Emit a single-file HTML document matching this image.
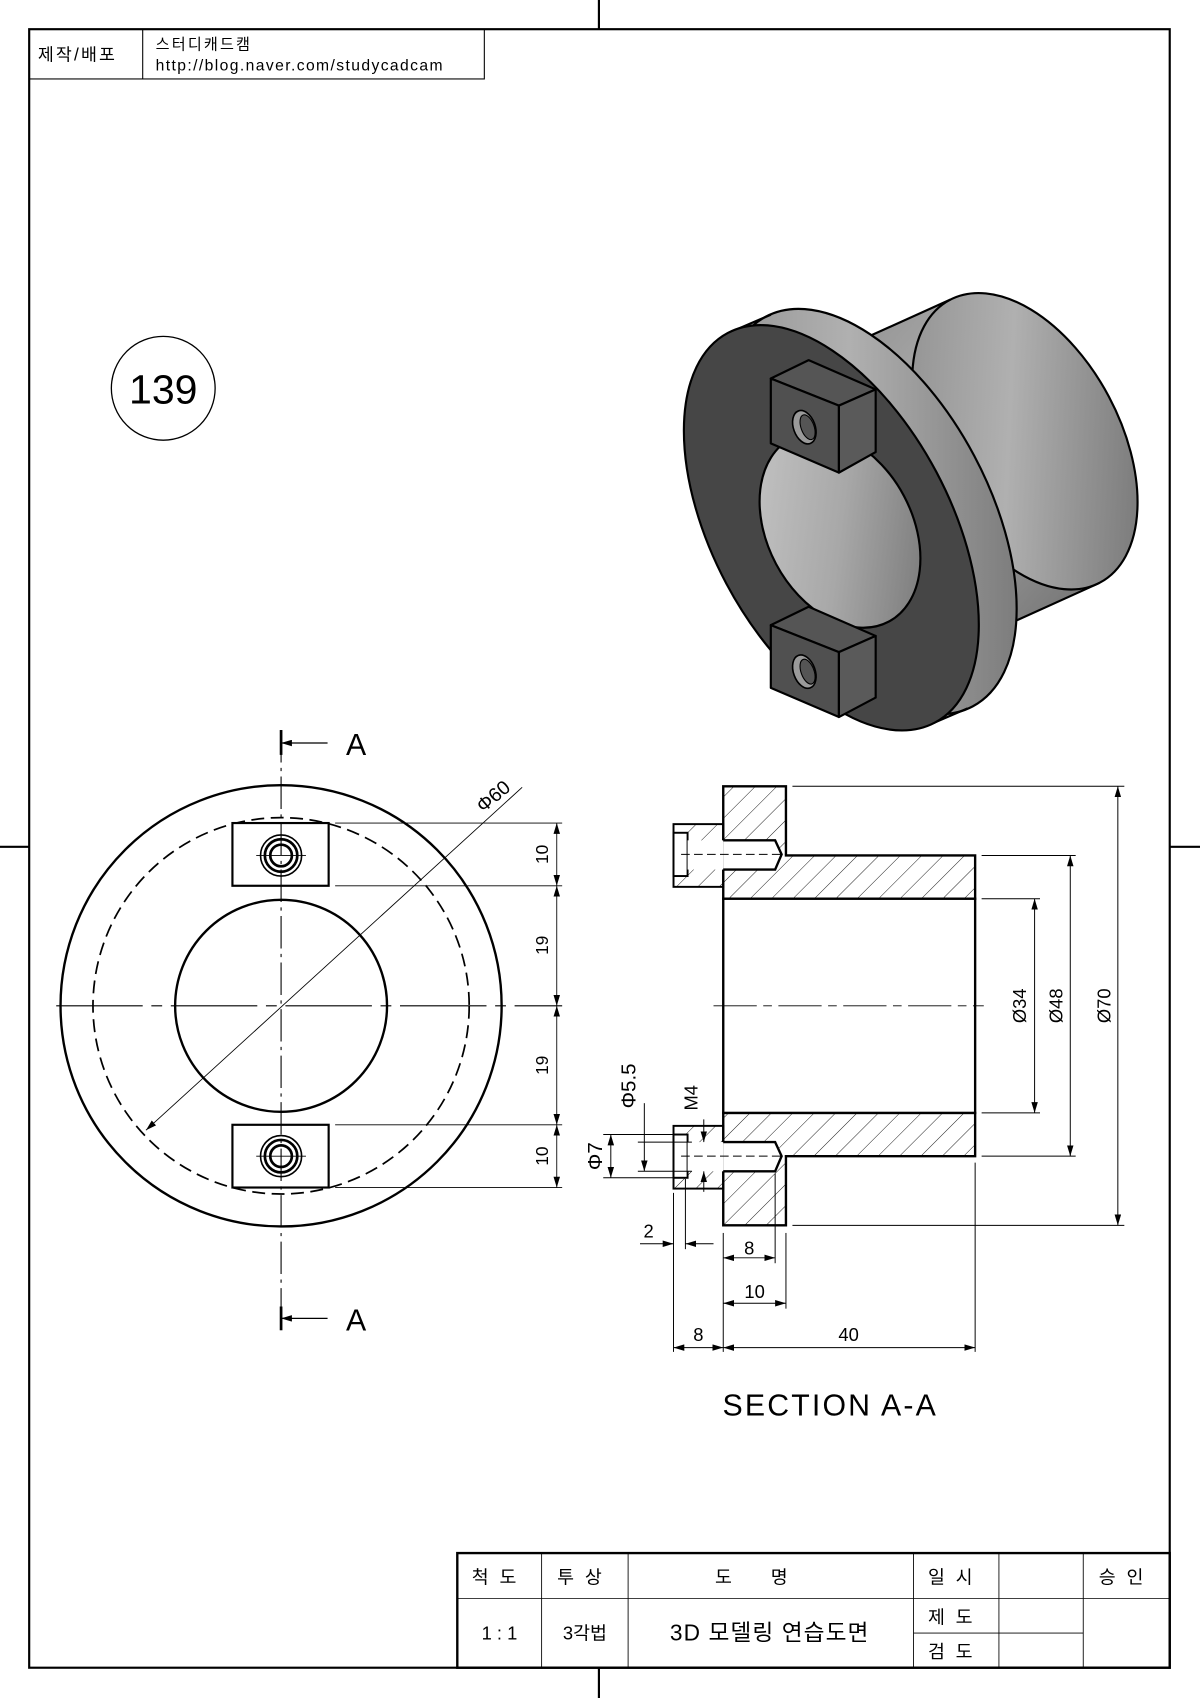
<!DOCTYPE html>
<html><head><meta charset="utf-8"><style>
html,body{margin:0;padding:0;background:#fff;}
svg{display:block;}
text{font-family:"Liberation Sans","Noto Sans CJK KR",sans-serif;fill:#000;}
</style></head><body>
<svg width="1200" height="1698" viewBox="0 0 1110 1570" preserveAspectRatio="none" xmlns="http://www.w3.org/2000/svg">
<defs>
<linearGradient id="cyl" x1="0" y1="0" x2="1" y2="1"><stop offset="0" stop-color="#8a8a8a"/><stop offset="0.45" stop-color="#b0b0b0"/><stop offset="1" stop-color="#6a6a6a"/></linearGradient>
<linearGradient id="bore" x1="0" y1="0" x2="1" y2="1"><stop offset="0" stop-color="#c8c8c8"/><stop offset="0.5" stop-color="#a8a8a8"/><stop offset="1" stop-color="#707070"/></linearGradient>
<pattern id="hat" patternUnits="userSpaceOnUse" width="14" height="14" patternTransform="rotate(45)"><line x1="0" y1="0" x2="0" y2="14" stroke="#000" stroke-width="0.8"/></pattern>
<marker id="ar" markerWidth="10" markerHeight="6" refX="10" refY="3" orient="auto" markerUnits="userSpaceOnUse"><path d="M0,0 L10,3 L0,6z" fill="#000"/></marker>
<marker id="al" markerWidth="10" markerHeight="6" refX="0" refY="3" orient="auto" markerUnits="userSpaceOnUse"><path d="M10,0 L0,3 L10,6z" fill="#000"/></marker>
</defs>
<!-- frame -->
<rect x="27" y="27" width="1055" height="1515" fill="none" stroke="#000" stroke-width="2"/>
<line x1="554" y1="0" x2="554" y2="27" stroke="#000" stroke-width="2"/>
<line x1="554" y1="1542" x2="554" y2="1570" stroke="#000" stroke-width="2"/>
<line x1="0" y1="783" x2="27" y2="783" stroke="#000" stroke-width="2"/>
<line x1="1082" y1="783" x2="1110" y2="783" stroke="#000" stroke-width="2"/>
<!-- header -->
<rect x="27" y="27" width="421" height="46" fill="none" stroke="#000" stroke-width="1"/>
<line x1="132" y1="27" x2="132" y2="73" stroke="#000" stroke-width="1"/>
<text x="35" y="56" font-size="16" letter-spacing="2">제작/배포</text>
<text x="144" y="46" font-size="14" letter-spacing="2">스터디캐드캠</text>
<text x="144" y="65" font-size="14.5" letter-spacing="1.3">http://blog.naver.com/studycadcam</text>
<!-- 139 -->
<circle cx="151" cy="359" r="48" fill="none" stroke="#000" stroke-width="1.2"/>
<text x="151" y="373" font-size="38" text-anchor="middle">139</text>

<!-- 3D -->
<g stroke="#000" stroke-width="2" stroke-linejoin="round">
<path d="M879,277 L1017,539 L873,604 L735,342 Z" fill="url(#cyl)" stroke="none"/>
<ellipse cx="948" cy="408" rx="88" ry="148" transform="rotate(-28 948 408)" fill="url(#cyl)"/>
<line x1="879" y1="277" x2="735" y2="342"/>
<line x1="1017" y1="539" x2="873" y2="604"/>
<path d="M678,306 L713,291 L895,655 L860,670 Z" fill="#a0a0a0" stroke="none"/>
<ellipse cx="804" cy="473" rx="110" ry="204" transform="rotate(-28 804 473)" fill="url(#cyl)"/>
<line x1="678" y1="306" x2="713" y2="291"/>
<line x1="860" y1="670" x2="895" y2="655"/>
<ellipse cx="769" cy="488" rx="110" ry="204" transform="rotate(-28 769 488)" fill="#464646"/>
<ellipse cx="777" cy="490" rx="67" ry="96" transform="rotate(-28 777 490)" fill="url(#bore)"/>
<g fill="#505050">
<path d="M713,350 L748,333 L810,360 L776,375 Z" fill="#555"/>
<path d="M713,350 L776,375 L776,437 L713,410 Z"/>
<path d="M776,375 L810,360 L810,418 L776,437 Z" fill="#5a5a5a"/>
<path d="M713,578 L748,561 L810,588 L776,603 Z" fill="#555"/>
<path d="M713,578 L776,603 L776,663 L713,636 Z"/>
<path d="M776,603 L810,588 L810,645 L776,663 Z" fill="#5a5a5a"/>
</g>
<ellipse cx="744" cy="395" rx="10" ry="16" transform="rotate(-20 744 395)" fill="#9a9a9a" stroke-width="1.5"/>
<ellipse cx="747" cy="395" rx="6" ry="12" transform="rotate(-20 747 395)" fill="#555" stroke-width="1"/>
<ellipse cx="744" cy="621" rx="10" ry="16" transform="rotate(-20 744 621)" fill="#9a9a9a" stroke-width="1.5"/>
<ellipse cx="747" cy="621" rx="6" ry="12" transform="rotate(-20 747 621)" fill="#555" stroke-width="1"/>
</g>

<!-- Front view -->
<g fill="none" stroke="#000">
<circle cx="260" cy="930" r="204" stroke-width="2.2"/>
<circle cx="260" cy="930" r="174" stroke-width="1.6" stroke-dasharray="12,6"/>
<circle cx="260" cy="930" r="98" stroke-width="2.2"/>
<rect x="215" y="761" width="89" height="58" fill="#fff" stroke-width="2"/>
<rect x="215" y="1040" width="89" height="58" fill="#fff" stroke-width="2"/>
<circle cx="260" cy="791" r="19" stroke-width="1.5"/><circle cx="260" cy="791" r="15" stroke-width="2.5"/><circle cx="260" cy="791" r="10" stroke-width="2.5"/>
<circle cx="260" cy="1069" r="19" stroke-width="1.5"/><circle cx="260" cy="1069" r="15" stroke-width="2.5"/><circle cx="260" cy="1069" r="10" stroke-width="2.5"/>
<line x1="260" y1="675" x2="260" y2="1230" stroke-width="1" stroke-dasharray="30,5,3,5"/>
<line x1="52" y1="930" x2="520" y2="930" stroke-width="1" stroke-dasharray="80,8,10,8"/>
<line x1="237" y1="791" x2="283" y2="791" stroke-width="0.8"/><line x1="237" y1="1069" x2="283" y2="1069" stroke-width="0.8"/>
<line x1="135" y1="1045" x2="483" y2="728" stroke-width="0.8" marker-start="url(#al)"/>
<line x1="310" y1="761" x2="520" y2="761" stroke-width="0.8"/>
<line x1="310" y1="819" x2="520" y2="819" stroke-width="0.8"/>
<line x1="310" y1="1040" x2="520" y2="1040" stroke-width="0.8"/>
<line x1="310" y1="1098" x2="520" y2="1098" stroke-width="0.8"/>
<line x1="515" y1="761" x2="515" y2="819" stroke-width="0.8" marker-start="url(#al)" marker-end="url(#ar)"/>
<line x1="515" y1="819" x2="515" y2="930" stroke-width="0.8" marker-start="url(#al)" marker-end="url(#ar)"/>
<line x1="515" y1="930" x2="515" y2="1040" stroke-width="0.8" marker-start="url(#al)" marker-end="url(#ar)"/>
<line x1="515" y1="1040" x2="515" y2="1098" stroke-width="0.8" marker-start="url(#al)" marker-end="url(#ar)"/>
<line x1="260" y1="687" x2="303" y2="687" stroke-width="1.2" marker-start="url(#al)"/>
<line x1="260" y1="1219" x2="303" y2="1219" stroke-width="1.2" marker-start="url(#al)"/>
<line x1="260" y1="675" x2="260" y2="698" stroke-width="2.5"/>
<line x1="260" y1="1208" x2="260" y2="1230" stroke-width="2.5"/>
</g>
<text x="320" y="698" font-size="28">A</text>
<text x="320" y="1230" font-size="28">A</text>
<text font-size="18" transform="translate(447,752) rotate(-40)">Φ60</text>
<g font-size="16">
<text transform="translate(507,790) rotate(-90)" text-anchor="middle">10</text>
<text transform="translate(507,874) rotate(-90)" text-anchor="middle">19</text>
<text transform="translate(507,985) rotate(-90)" text-anchor="middle">19</text>
<text transform="translate(507,1069) rotate(-90)" text-anchor="middle">10</text>
</g>

<!-- Section view -->
<g stroke="#000" stroke-width="2.2">
<path d="M669,727 H727 V791 H902 V831 H669 Z" fill="url(#hat)"/>
<path d="M669,1029 H902 V1069 H727 V1133 H669 Z" fill="url(#hat)"/>
<rect x="669" y="831" width="233" height="198" fill="#fff"/>
<rect x="623" y="762" width="46" height="58" fill="url(#hat)" stroke-width="1.8"/>
<rect x="623" y="770" width="13" height="40" fill="#fff" stroke-width="1.8"/>
<rect x="636" y="777" width="33" height="27" fill="#fff" stroke="none"/>
<path d="M669,777 H717 L723,790 L717,804 H669" fill="#fff"/>
<rect x="623" y="1041" width="46" height="58" fill="url(#hat)" stroke-width="1.8"/>
<rect x="623" y="1049" width="13" height="40" fill="#fff" stroke-width="1.8"/>
<rect x="636" y="1056" width="33" height="27" fill="#fff" stroke="none"/>
<path d="M669,1056 H717 L723,1069 L717,1083 H669" fill="#fff"/>
</g>
<g fill="none" stroke="#000" stroke-width="0.9">
<line x1="630" y1="790" x2="728" y2="790" stroke-dasharray="8,4"/>
<line x1="630" y1="1069" x2="728" y2="1069" stroke-dasharray="8,4"/>
<line x1="660" y1="930" x2="910" y2="930" stroke-dasharray="40,6,8,6"/>
<line x1="733" y1="727" x2="1040" y2="727"/>
<line x1="733" y1="1133" x2="1040" y2="1133"/>
<line x1="908" y1="791" x2="995" y2="791"/>
<line x1="908" y1="1069" x2="995" y2="1069"/>
<line x1="908" y1="831" x2="962" y2="831"/>
<line x1="908" y1="1029" x2="962" y2="1029"/>
<line x1="957" y1="831" x2="957" y2="1029" marker-start="url(#al)" marker-end="url(#ar)"/>
<line x1="990" y1="791" x2="990" y2="1069" marker-start="url(#al)" marker-end="url(#ar)"/>
<line x1="1034" y1="727" x2="1034" y2="1133" marker-start="url(#al)" marker-end="url(#ar)"/>
<line x1="623" y1="1103" x2="623" y2="1250"/>
<line x1="669" y1="1140" x2="669" y2="1250"/>
<line x1="727" y1="1140" x2="727" y2="1210"/>
<line x1="717" y1="1085" x2="717" y2="1168"/>
<line x1="902" y1="1075" x2="902" y2="1250"/>
<line x1="634" y1="1090" x2="634" y2="1155"/>
<line x1="669" y1="1163" x2="717" y2="1163" marker-start="url(#al)" marker-end="url(#ar)"/>
<line x1="669" y1="1205" x2="727" y2="1205" marker-start="url(#al)" marker-end="url(#ar)"/>
<line x1="623" y1="1246" x2="669" y2="1246" marker-start="url(#al)" marker-end="url(#ar)"/>
<line x1="669" y1="1246" x2="902" y2="1246" marker-start="url(#al)" marker-end="url(#ar)"/>
<line x1="592" y1="1150" x2="623" y2="1150" marker-end="url(#ar)"/>
<line x1="634" y1="1150" x2="660" y2="1150" marker-start="url(#al)"/>
<line x1="558" y1="1049" x2="625" y2="1049"/>
<line x1="558" y1="1089" x2="625" y2="1089"/>
<line x1="565" y1="1049" x2="565" y2="1089" marker-start="url(#al)" marker-end="url(#ar)"/>
<line x1="590" y1="1056" x2="640" y2="1056"/>
<line x1="590" y1="1083" x2="640" y2="1083"/>
<line x1="596" y1="1020" x2="596" y2="1083" marker-end="url(#ar)"/>
<line x1="651" y1="1035" x2="651" y2="1056" marker-end="url(#ar)"/>
<line x1="651" y1="1083" x2="651" y2="1102" marker-start="url(#al)"/>
</g>
<g font-size="17">
<text transform="translate(949,930) rotate(-90)" text-anchor="middle">Ø34</text>
<text transform="translate(983,930) rotate(-90)" text-anchor="middle">Ø48</text>
<text transform="translate(1027,930) rotate(-90)" text-anchor="middle">Ø70</text>
<text x="693" y="1160" text-anchor="middle">8</text>
<text x="698" y="1200" text-anchor="middle">10</text>
<text x="646" y="1240" text-anchor="middle">8</text>
<text x="785" y="1240" text-anchor="middle">40</text>
<text x="600" y="1144" text-anchor="middle">2</text>
<text transform="translate(557,1069) rotate(-90)" text-anchor="middle" font-size="19">Φ7</text>
<text transform="translate(588,1004) rotate(-90)" text-anchor="middle" font-size="19">Φ5.5</text>
<text transform="translate(645,1015) rotate(-90)" text-anchor="middle">M4</text>
</g>
<text x="768" y="1309" font-size="28" text-anchor="middle" letter-spacing="2">SECTION A-A</text>

<!-- title block -->
<g fill="none" stroke="#000">
<rect x="423" y="1436" width="659" height="106" stroke-width="2.2"/>
<line x1="423" y1="1478" x2="1082" y2="1478" stroke-width="0.8"/>
<line x1="501" y1="1436" x2="501" y2="1542" stroke-width="0.8"/>
<line x1="581" y1="1436" x2="581" y2="1542" stroke-width="0.8"/>
<line x1="845" y1="1436" x2="845" y2="1542" stroke-width="0.8"/>
<line x1="924" y1="1436" x2="924" y2="1542" stroke-width="0.8"/>
<line x1="1002" y1="1436" x2="1002" y2="1542" stroke-width="0.8"/>
<line x1="845" y1="1510" x2="1002" y2="1510" stroke-width="0.8"/>
</g>
<g font-size="17" text-anchor="middle">
<text x="462" y="1464" letter-spacing="10">척도</text>
<text x="541" y="1464" letter-spacing="10">투상</text>
<text x="713" y="1464" letter-spacing="36">도명</text>
<text x="884" y="1464" letter-spacing="10">일시</text>
<text x="1042" y="1464" letter-spacing="10">승인</text>
<text x="462" y="1516">1 : 1</text>
<text x="541" y="1516">3각법</text>
<text x="712" y="1517" font-size="21" letter-spacing="1">3D 모델링 연습도면</text>
<text x="884" y="1501" letter-spacing="10">제도</text>
<text x="884" y="1533" letter-spacing="10">검도</text>
</g>
</svg>
</body></html>
